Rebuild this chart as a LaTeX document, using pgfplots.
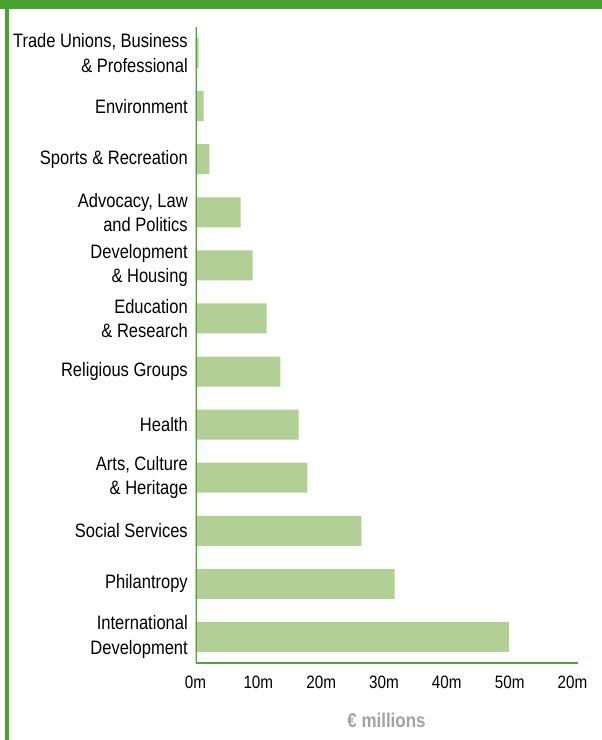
\documentclass[border=0pt]{standalone}
\usepackage{pgfplots}
\pgfplotsset{compat=1.18}
\usepackage{fontspec}
\setmainfont{Liberation Sans}[FakeStretch=0.85]
\definecolor{frame}{HTML}{48A22F}
\definecolor{axisg}{HTML}{4DA636}
\definecolor{barg}{HTML}{B2D096}
\definecolor{lblgray}{HTML}{A3A3A3}
\begin{document}
\begin{tikzpicture}[x=1bp,y=1bp]
\path[use as bounding box] (0,0) rectangle (602,740);
\fill[frame] (0,730.5) rectangle (602,740);
\fill[frame] (4.5,0) rectangle (9,740);
\begin{axis}[
  at={(195.5bp,77bp)}, anchor=south west,
  scale only axis, width=382bp, height=636bp,
  xmin=0, xmax=60.8, ymin=-0.49, ymax=11.49,
  axis x line*=bottom, axis y line*=left,
  x axis line style={draw=axisg, line width=1.8bp, -},
  y axis line style={draw=none, -},
  xtick={0,10,20,30,40,50,60},
  xticklabels={0m,10m,20m,30m,40m,50m,20m},
  ytick={0,...,11},
  yticklabels={{International\\Development},{Philantropy},{Social Services},{Arts, Culture\\\& Heritage},{Health},{Religious Groups},{Education\\\& Research},{Development\\\& Housing},{Advocacy, Law\\and Politics},{Sports \& Recreation},{Environment},{Trade Unions, Business\\\& Professional}},
  tick style={draw=none},
  yticklabel style={align=right, font=\fontsize{19.5}{24.5}\selectfont},
  xticklabel style={font=\fontsize{18}{20}\selectfont, yshift=-9bp},
  /pgf/number format/assume math mode=true,
  xbar, bar width=30bp,
  xlabel={\textbf{\textcolor{lblgray}{€ millions}}},
  xlabel style={font=\fontsize{20}{22}\selectfont, yshift=-18bp},
]
\addplot[fill=barg, draw=none, bar shift=0pt] coordinates {
(49.9,0) (31.7,1) (26.4,2) (17.8,3) (16.4,4) (13.5,5) (11.3,6) (9.1,7) (7.2,8) (2.2,9) (1.3,10) (0.5,11)
};
\draw[draw=axisg, line width=2bp] (axis cs:0,-0.49) -- (axis cs:0,11.49);
\end{axis}
\end{tikzpicture}
\end{document}
